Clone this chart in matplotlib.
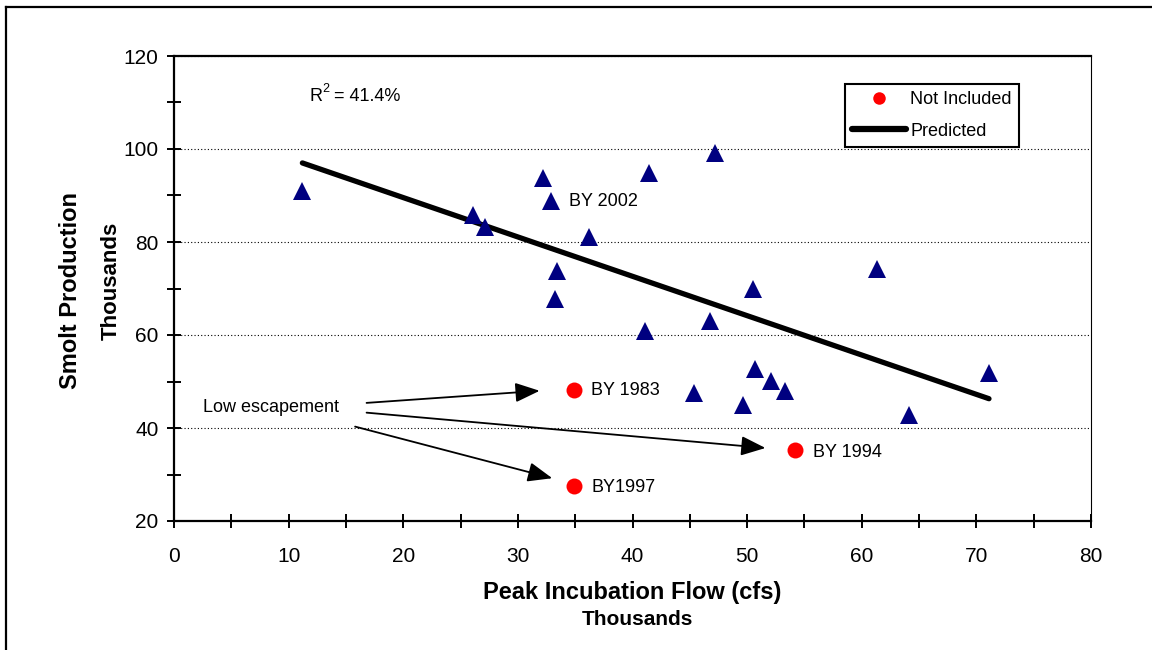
import matplotlib
matplotlib.use('Agg')
import matplotlib.pyplot as plt
from matplotlib.lines import Line2D
from matplotlib.ticker import MultipleLocator

plt.rcParams['font.family'] = ['Liberation Sans', 'DejaVu Sans']
plt.rcParams['mathtext.default'] = 'regular'

# Peak incubation flow (thousands cfs) vs smolt production (thousands)
flow_x = [11.2, 26.1, 27.1, 32.2, 32.9, 33.4, 33.2, 36.2, 41.1, 41.4, 47.2,
          46.8, 50.5, 61.3, 45.4, 49.6, 50.7, 52.1, 53.3, 64.1, 71.1]
smolt_y = [91.0, 85.8, 83.2, 93.7, 88.8, 73.8, 67.7, 81.1, 60.8, 94.9, 99.2,
           63.0, 69.9, 74.1, 47.6, 45.0, 52.6, 50.1, 48.0, 42.8, 51.8]

# low escapement years, not included in the fit
excl_x = [34.9, 54.2, 34.9]
excl_y = [48.2, 35.3, 27.5]
excl_labels = ['BY 1983', 'BY 1994', 'BY1997']

# regression line end points
pred_x = [11.2, 71.1]
pred_y = [97.0, 46.3]

fig = plt.figure(figsize=(11.52, 6.5), dpi=100)
ax = fig.add_axes([174 / 1152, 1 - 521 / 650, (1091 - 174) / 1152, (521 - 56) / 650])

ax.plot(pred_x, pred_y, color='black', lw=3.8, solid_capstyle='round', zorder=3)
ax.plot(flow_x, smolt_y, ls='none', marker='^', ms=12.5, color='#000080',
        markeredgewidth=0, zorder=4)
ax.plot(excl_x, excl_y, ls='none', marker='o', ms=11.5, color='red',
        markeredgewidth=0, zorder=4)

ax.set_xlim(0, 80)
ax.set_ylim(20, 120)
ax.xaxis.set_major_locator(MultipleLocator(10))
ax.xaxis.set_minor_locator(MultipleLocator(5))
ax.yaxis.set_major_locator(MultipleLocator(20))
ax.yaxis.set_minor_locator(MultipleLocator(10))
ax.tick_params(which='both', direction='inout', length=10, width=1.4, color='black')
ax.tick_params(axis='x', which='major', labelsize=15, pad=14)
ax.tick_params(axis='y', which='major', labelsize=15, pad=6)
ax.yaxis.grid(True, which='major', color='black', lw=0.8, ls=(0, (1, 2)))
ax.set_axisbelow(True)

for s in ['left', 'top', 'bottom']:
    ax.spines[s].set_linewidth(1.6)
ax.spines['right'].set_linewidth(0.8)

# text labels
ax.text(11.8, 111.2, 'R', fontsize=13, va='center', ha='left')
ax.text(12.95, 113.0, '2', fontsize=9, va='center', ha='left')
ax.text(14.0, 111.2, '= 41.4%', fontsize=13, va='center', ha='left')
ax.text(34.5, 88.7, 'BY 2002', fontsize=13, va='center', ha='left')
label_pos = [(36.4, 48.0), (55.75, 34.7), (36.4, 27.1)]
for (tx, ty), lab in zip(label_pos, excl_labels):
    ax.text(tx, ty, lab, fontsize=13, va='center', ha='left')

ax.text(2.56, 44.4, 'Low escapement', fontsize=13, va='center', ha='left')
arrows = [((16.8, 45.4), (31.9, 48.0)),
          ((16.8, 43.3), (51.6, 35.7)),
          ((15.8, 40.3), (33.0, 29.2))]
for start, end in arrows:
    ax.annotate('', xy=end, xytext=start,
                arrowprops=dict(arrowstyle='-|>,head_length=0.75,head_width=0.3',
                                mutation_scale=20, lw=1.3, color='black',
                                shrinkA=0, shrinkB=0))

# legend
handles = [Line2D([], [], ls='none', marker='o', ms=9, color='red', markeredgewidth=0),
           Line2D([], [], color='black', lw=4.5, solid_capstyle='round')]
leg = ax.legend(handles, ['Not Included', 'Predicted'], fontsize=13,
                loc='upper left', bbox_to_anchor=(845 / 1152, 1 - 84 / 650),
                bbox_transform=fig.transFigure, borderaxespad=0, fancybox=False,
                framealpha=1, edgecolor='black', handlelength=3.0,
                handletextpad=0.2, borderpad=0.4, labelspacing=0.8)
leg.get_frame().set_linewidth(1.5)

# axis titles
fig.text(0.5484, 0.0877, 'Peak Incubation Flow (cfs)', fontsize=17,
         fontweight='bold', ha='center', va='center')
fig.text(0.5534, 0.0462, 'Thousands', fontsize=15, fontweight='bold',
         ha='center', va='center')
fig.text(0.0614, 0.5538, 'Smolt Production', fontsize=17, fontweight='bold',
         ha='center', va='center', rotation=90)
fig.text(0.0970, 0.5677, 'Thousands', fontsize=16, fontweight='bold',
         ha='center', va='center', rotation=90)

# outer frame (only top and left edges visible)
fig.add_artist(Line2D([6 / 1152, 1.0], [1 - 7 / 650, 1 - 7 / 650], color='black',
                      lw=1.6, transform=fig.transFigure))
fig.add_artist(Line2D([6 / 1152, 6 / 1152], [0.0, 1 - 7 / 650], color='black',
                      lw=1.6, transform=fig.transFigure))

fig.savefig('out.png', dpi=100)
